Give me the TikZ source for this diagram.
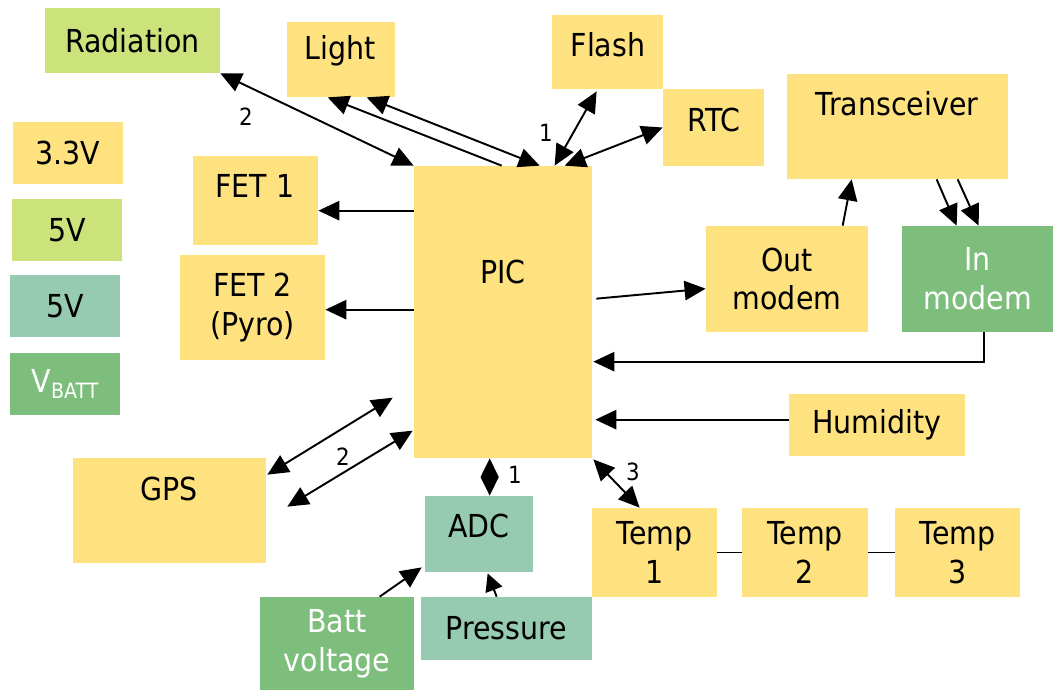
\documentclass[tikz,border=0pt]{standalone}
\usepackage{fontspec}
\setmainfont{DejaVu Sans}[FakeStretch=0.9]
\usetikzlibrary{arrows.meta,calc}
\definecolor{ylw}{RGB}{255,226,128}
\definecolor{lgr}{RGB}{204,226,122}
\definecolor{tealg}{RGB}{150,202,177}
\definecolor{dgr}{RGB}{126,190,124}
\begin{document}
\begin{tikzpicture}[x=0.02cm,y=-0.02cm,
  box/.style={draw=none, inner sep=0pt, align=center, font=\fontsize{18}{22}\selectfont},
  sz/.style 2 args={minimum width=#1*0.02cm, minimum height=#2*0.02cm},
  txt/.style={inner sep=0pt, align=center, font=\fontsize{18}{22}\selectfont},
  lbl/.style={inner sep=0pt, font=\fontsize{13.5}{15}\selectfont},
  link/.style={line width=1.1pt, -{Triangle[length=12pt,width=11pt]}},
  blink/.style={line width=1.1pt, {Triangle[length=12pt,width=11pt]}-{Triangle[length=12pt,width=11pt]}},
  shortblink/.style={line width=1.1pt, {Triangle[length=10.5pt,width=10pt]}-{Triangle[length=10.5pt,width=10pt]}},
  shortlink/.style={line width=1.1pt, -{Triangle[length=10pt,width=10pt]}},
  plain/.style={line width=1.1pt}]
\useasboundingbox (0,0) rectangle (1053,690);
% legend
\node[box,fill=ylw,sz={110}{62}] (v33) at (68,153) {3.3V};
\node[box,fill=lgr,sz={110}{62}] (v5a) at (67,230) {5V};
\node[box,fill=tealg,sz={110}{62}] (v5b) at (65,306) {5V};
\node[box,fill=dgr,sz={110}{62},text=white] (vb) at (65,384) {V\raisebox{-0.35ex}{\fontsize{12}{13}\selectfont BATT}};
% boxes
\node[box,fill=lgr,sz={175}{65}] (rad) at (132.5,40.5) {Radiation};
\node[box,fill=ylw,sz={108}{75}] (light) at (341,59.5) {};
\node[txt] (lightt) at (340,51) {Light};
\node[box,fill=ylw,sz={111}{74}] (flash) at (607.5,52) {};
\node[txt] (flasht) at (608,45) {Flash};
\node[box,fill=ylw,sz={101}{77}] (rtc) at (713.5,127.5) {};
\node[txt] (rtct) at (714,120) {RTC};
\node[box,fill=ylw,sz={221}{105}] (trans) at (897.5,126.5) {};
\node[txt] (transt) at (897,104) {Transceiver};
\node[box,fill=ylw,sz={125}{89}] (fet1) at (255.5,200.5) {};
\node[txt] (fet1t) at (255,186) {FET 1};
\node[box,fill=ylw,sz={145}{105}] (fet2) at (252.5,307.5) {FET 2\\(Pyro)};
\node[box,fill=ylw,sz={178}{292}] (pic) at (503,312) {};
\node[txt] (pict) at (503,272) {PIC};
\node[box,fill=ylw,sz={162}{106}] (out) at (787,279) {Out\\modem};
\node[box,fill=dgr,sz={151}{106},text=white] (inm) at (977.5,279) {In\\modem};
\node[box,fill=ylw,sz={176}{62}] (hum) at (877,425) {Humidity};
\node[box,fill=ylw,sz={193}{105}] (gps) at (169.5,510.5) {};
\node[txt] (gpst) at (169,489) {GPS};
\node[box,fill=tealg,sz={108}{76}] (adc) at (479,534) {};
\node[txt] (adct) at (479,526) {ADC};
\node[box,fill=ylw,sz={125}{89}] (t1) at (654.5,552.5) {Temp\\1};
\node[box,fill=ylw,sz={126}{89}] (t2) at (805,552.5) {Temp\\2};
\node[box,fill=ylw,sz={125}{89}] (t3) at (957.5,552.5) {Temp\\3};
\node[box,fill=dgr,sz={154}{93},text=white] (batt) at (337,643.5) {Batt\\voltage};
\node[box,fill=tealg,sz={171}{63}] (press) at (506.5,628.5) {Pressure};
% connectors
\draw[blink] (rad.south east) -- (pic.north west);
\draw[link] ($(pic.north west)+(88,0)$) -- ($(light.south west)+(41,0)$);
\draw[blink] ($(light.south west)+(80,0)$) -- ($(pic.north west)+(126,0)$);
\draw[blink] ($(flash.south west)+(45,2)$) -- ($(pic.north west)+(141,0)$);
\draw[blink] (rtc.west) -- ($(pic.north west)+(151,0)$);
\draw[link] ($(pic.north west)+(0,45)$) -- ($(fet1.north east)+(0,55)$);
\draw[link] ($(pic.north west)+(0,144)$) -- ($(fet2.north east)+(0,55)$);
\draw[link] ($(pic.north east)+(4,133)$) -- ($(out.north west)+(0,63)$);
\draw[link] ($(out.north west)+(137,0)$) -- ($(trans.south west)+(65,0)$);
\draw[link] ($(trans.south west)+(150,0)$) -- ($(inm.north west)+(55,0)$);
\draw[link] ($(trans.south west)+(171,0)$) -- ($(inm.north west)+(77,0)$);
\draw[link] ($(inm.south west)+(82,0)$) |- ($(pic.north east)+(1,196)$);
\draw[link] ($(hum.north west)+(0,26)$) -- ($(pic.north east)+(3,254)$);
\draw[blink] ($(gps.north east)+(1,17)$) -- ($(pic.north west)+(-21,232)$);
\draw[blink] ($(gps.north east)+(21,49)$) -- ($(pic.north west)+(-1,265)$);
\draw[shortblink] ($(pic.south west)+(76,0)$) -- ($(adc.north west)+(65,0)$);
\draw[blink] ($(pic.south east)+(1,1)$) -- ($(t1.north west)+(48,0)$);
\draw[plain] (t1.east) -- (t2.west);
\draw[plain] (t2.east) -- (t3.west);
\draw[link] ($(batt.north west)+(120,0)$) -- ($(adc.south west)+(-3,-5)$);
\draw[shortlink] ($(press.north west)+(76,0)$) -- ($(adc.south west)+(63,1)$);
% labels
\node[lbl] (l1) at (246,117) {2};
\node[lbl] (l2) at (546,133) {1};
\node[lbl] (l3) at (343,457) {2};
\node[lbl] (l4) at (515,475) {1};
\node[lbl] (l5) at (633,472) {3};
\end{tikzpicture}
\end{document}
